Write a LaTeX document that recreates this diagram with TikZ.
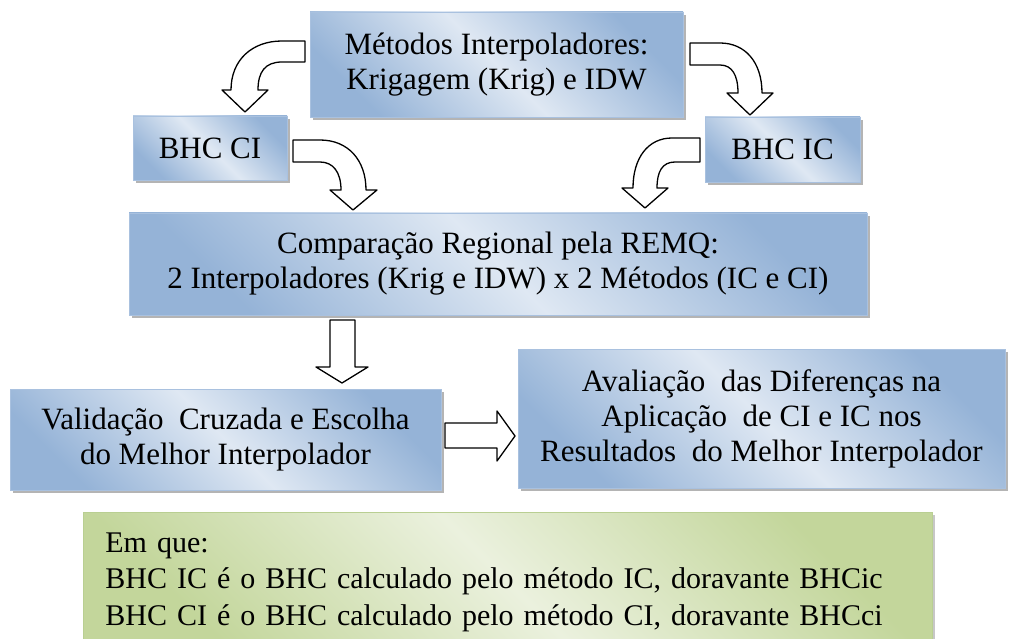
\documentclass[tikz,border=0pt]{standalone}
\usepackage{fontspec}
\setmainfont{Liberation Serif}
\usetikzlibrary{shadows}
\definecolor{azulclaro}{HTML}{DFE8F3}
\definecolor{azulescuro}{HTML}{95B3D7}
\definecolor{azulborda}{HTML}{A9C1DF}
\definecolor{verdeclaro}{HTML}{EBF1DE}
\definecolor{verdeescuro}{HTML}{C3D69B}
\definecolor{verdeborda}{HTML}{B9CF92}
\tikzset{
    caixa/.style={draw=azulborda, line width=0.8pt, top color=azulescuro, bottom color=azulescuro, middle color=azulclaro, shading angle=-45,
        drop shadow={shadow xshift=3pt, shadow yshift=-3pt, fill=gray!65, opacity=0.9},
        align=center, inner sep=0pt, font=\fontsize{31}{35}\selectfont},
    legenda/.style={draw=verdeborda, line width=0.8pt, top color=verdeescuro, bottom color=verdeescuro, middle color=verdeclaro, shading angle=-45,
        drop shadow={shadow xshift=3pt, shadow yshift=-3pt, fill=gray!55, opacity=0.8},
        align=left, inner xsep=22pt, inner ysep=20pt, font=\fontsize{30}{36.5}\selectfont},
    seta/.style={draw=black, fill=white, line width=1.3pt, line join=round}
}
\begin{document}
\begin{tikzpicture}[x=1pt, y=-1pt]
    \useasboundingbox (0,0) rectangle (1010,639);
    \node[caixa, minimum width=373pt, minimum height=105pt] (metodos) at (496.5,64.5) {Métodos Interpoladores:\\Krigagem (Krig) e IDW};
    \node[caixa, minimum width=154pt, minimum height=64pt] (bhcci) at (210,148) {BHC CI};
    \node[caixa, minimum width=155pt, minimum height=65pt] (bhcic) at (782.5,149.5) {BHC IC};
    \node[caixa, minimum width=738pt, minimum height=102pt] (comparacao) at (498,264) {Comparação Regional pela REMQ:\\2 Interpoladores (Krig e IDW) x 2 Métodos (IC e CI)};
    \node[caixa, minimum width=431pt, minimum height=101pt] (validacao) at (225.5,439.5) {Validação\hspace{0.25em} Cruzada e Escolha\\do Melhor Interpolador};
    \node[caixa, minimum width=487pt, minimum height=139pt] (avaliacao) at (761.5,418.5) {Avaliação\hspace{0.25em} das Diferenças na\\Aplicação\hspace{0.25em} de CI e IC nos\\Resultados\hspace{0.25em} do Melhor Interpolador};
    \node[legenda, anchor=north west, text width=805pt] (notas) at (83,512) {Em que:\\BHC IC é o BHC calculado pelo método IC, doravante BHCic\\BHC CI é o BHC calculado pelo método CI, doravante BHCci};
    \draw[seta] (305,41) -- (282,41) .. controls (252,41) and (231,60) .. (231,90) -- (222,90) -- (245,112) -- (268,90) -- (258,90) .. controls (258,72) and (265,62) .. (282,62) -- (305,62) -- cycle;
    \draw[seta] (690,43) -- (720,43) .. controls (745,43) and (762,62) .. (762,93) -- (773,93) -- (750,115) -- (727,93) -- (738,93) .. controls (738,75) and (732,65) .. (720,65) -- (690,65) -- cycle;
    \draw[seta] (293,140) -- (320,140) .. controls (348,140) and (366,160) .. (366,190) -- (377,190) -- (353,210) -- (330,190) -- (341,190) .. controls (341,172) and (333,162) .. (320,162) -- (293,162) -- cycle;
    \draw[seta] (700,138) -- (672,138) .. controls (648,138) and (633,158) .. (633,188) -- (622,188) -- (645,208) -- (668,188) -- (657,188) .. controls (657,172) and (662,162) .. (675,162) -- (700,162) -- cycle;
    \draw[seta] (330,320) -- (330,367) -- (316,367) -- (342,383) -- (368,367) -- (355,367) -- (355,320) -- cycle;
    \draw[seta] (445,423) -- (497,423) -- (497,411) -- (515,436) -- (497,461) -- (497,448) -- (445,448) -- cycle;
\end{tikzpicture}
\end{document}
